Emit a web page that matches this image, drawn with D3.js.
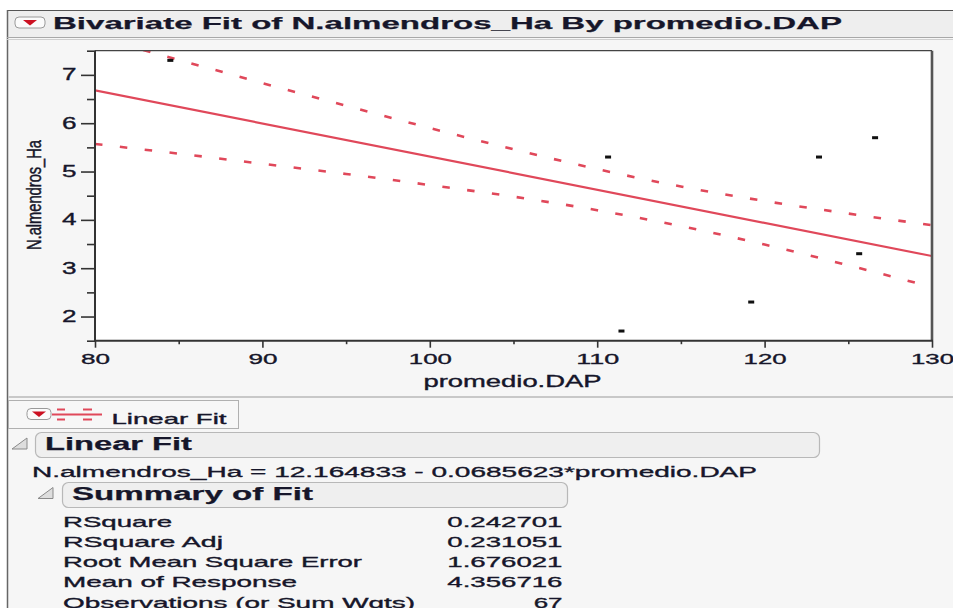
<!DOCTYPE html>
<html>
<head>
<meta charset="utf-8">
<script src="https://cdn.jsdelivr.net/npm/d3@7"></script>
<style>
  body { margin: 0; background: #ffffff; }
  svg { display: block; }
  text { font-family: "Liberation Sans", Arial, sans-serif; fill: #16162a; stroke: #16162a; stroke-width: 0.35px; }
  text.bold { stroke-width: 0.25px; }
</style>
</head>
<body>
<svg id="chart" width="953" height="608"></svg>
<script>
// ---- data ----
const xTicks = [80, 90, 100, 110, 120, 130];
const xMinorTicks = [85, 95, 105, 115, 125];
const yTicks = [2, 3, 4, 5, 6, 7];
const yMinorTicks = [1.5, 2.5, 3.5, 4.5, 5.5, 6.5, 7.5];

// observations visible inside the axis range
const pointX = [84.5, 110.65, 111.45, 119.2, 123.25, 125.65, 126.6];
const pointY = [7.3, 5.3, 1.7, 2.3, 5.3, 3.3, 5.7];

// linear fit coefficients
const fitIntercept = 12.164833;
const fitSlope = -0.0685623;

// confidence band of the fit
const bandX     = [80, 85, 90, 95, 100, 105, 110, 115, 120, 125, 130];
const bandUpper = [7.79, 7.31, 6.83, 6.36, 5.90, 5.46, 5.05, 4.69, 4.39, 4.13, 3.89];
const bandLower = [5.57, 5.37, 5.16, 4.95, 4.72, 4.48, 4.20, 3.87, 3.49, 3.06, 2.61];

const summaryLabels = ["RSquare", "RSquare Adj", "Root Mean Square Error", "Mean of Response", "Observations (or Sum Wgts)"];
const summaryValues = ["0.242701", "0.231051", "1.676021", "4.356716", "67"];

const titleText = "Bivariate Fit of N.almendros_Ha By promedio.DAP";
const xLabel = "promedio.DAP";
const yLabel = "N.almendros_Ha";
const equationText = "N.almendros_Ha = 12.164833 - 0.0685623*promedio.DAP";

// ---- layout ----
const RED = "#e0485a";
const plot = { left: 95, right: 932, top: 50.7, bottom: 340.7 };

const svg = d3.select("#chart");

// stretch text horizontally to a given width
function fit(sel, w) {
  return sel.attr("textLength", w).attr("lengthAdjust", "spacingAndGlyphs");
}

// page backgrounds
svg.append("rect").attr("width", 953).attr("height", 608).attr("fill", "#ffffff");
svg.append("rect").attr("x", 7).attr("y", 10).attr("width", 946).attr("height", 598).attr("fill", "#f6f6f6");
svg.append("rect").attr("x", 7).attr("y", 10).attr("width", 946).attr("height", 27).attr("fill", "#eeeeee");
svg.append("line").attr("x1", 7).attr("x2", 953).attr("y1", 10.5).attr("y2", 10.5).attr("stroke", "#555").attr("stroke-width", 1);
svg.append("line").attr("x1", 7.5).attr("x2", 7.5).attr("y1", 10).attr("y2", 608).attr("stroke", "#666").attr("stroke-width", 1.5);
svg.append("line").attr("x1", 7).attr("x2", 953).attr("y1", 37.5).attr("y2", 37.5).attr("stroke", "#a8a8a8").attr("stroke-width", 1);
svg.append("line").attr("x1", 7).attr("x2", 953).attr("y1", 39.5).attr("y2", 39.5).attr("stroke", "#cfcfcf").attr("stroke-width", 1);
svg.append("line").attr("x1", 8).attr("x2", 953).attr("y1", 397).attr("y2", 397).attr("stroke", "#c8c8c8").attr("stroke-width", 2);

// disclosure button
function dropButton(x, y, w, h) {
  svg.append("rect").attr("x", x).attr("y", y).attr("width", w).attr("height", h).attr("rx", 4)
    .attr("fill", "#fbfbfb").attr("stroke", "#9a9a9a").attr("stroke-width", 1);
  const cx = x + w / 2, cy = y + h / 2;
  svg.append("path").attr("d", `M${cx - 7},${cy - 2.5} L${cx + 7},${cy - 2.5} L${cx},${cy + 3} Z`).attr("fill", "#cc1122");
}
dropButton(15, 17, 30, 11);

fit(svg.append("text").attr("class", "bold").attr("x", 53).attr("y", 28.5).attr("font-size", 17)
  .attr("font-weight", "bold").attr("fill", "#0c0c1c").text(titleText), 789);

// ---- plot ----
const x = d3.scaleLinear().domain([80, 130]).range([plot.left, plot.right]);
const y = d3.scaleLinear().domain([1.5, 7.5]).range([plot.bottom, plot.top]);

svg.append("rect").attr("x", plot.left).attr("y", plot.top)
  .attr("width", plot.right - plot.left).attr("height", plot.bottom - plot.top).attr("fill", "#ffffff");

svg.append("clipPath").attr("id", "plotClip").append("rect")
  .attr("x", plot.left).attr("y", plot.top)
  .attr("width", plot.right - plot.left).attr("height", plot.bottom - plot.top);

const g = svg.append("g").attr("clip-path", "url(#plotClip)");

const bandLine = (vals) => d3.line().curve(d3.curveMonotoneX)
  .x((d, i) => x(bandX[i])).y((d, i) => y(vals[i]))(vals);

[bandUpper, bandLower].forEach(vals => {
  g.append("path").attr("d", bandLine(vals)).attr("fill", "none")
    .attr("stroke", RED).attr("stroke-width", 2.6).attr("stroke-dasharray", "7.5,17.5");
});

const fitXs = [80, 130];
g.append("path")
  .attr("d", d3.line().x(d => x(d)).y(d => y(fitIntercept + fitSlope * d))(fitXs))
  .attr("fill", "none").attr("stroke", RED).attr("stroke-width", 2.2);

g.selectAll("rect.pt").data(pointX).join("rect").attr("class", "pt")
  .attr("x", (d) => x(d) - 3).attr("y", (d, i) => y(pointY[i]) - 1.5)
  .attr("width", 6).attr("height", 3).attr("fill", "#111");

// frame
svg.append("line").attr("x1", plot.left).attr("x2", plot.right).attr("y1", plot.top).attr("y2", plot.top)
  .attr("stroke", "#444").attr("stroke-width", 1.2);
svg.append("line").attr("x1", plot.right).attr("x2", plot.right).attr("y1", plot.top).attr("y2", plot.bottom)
  .attr("stroke", "#555").attr("stroke-width", 2.6);

// axes
const yAxis = svg.append("g").attr("transform", `translate(${plot.left},0)`)
  .call(d3.axisLeft(y).tickValues(yTicks).tickSize(14).tickSizeOuter(0).tickPadding(4.5).tickFormat(d3.format("d")));
const yMinor = svg.append("g").attr("transform", `translate(${plot.left},0)`)
  .call(d3.axisLeft(y).tickValues(yMinorTicks).tickSize(8).tickSizeOuter(0).tickFormat(""));
const xAxis = svg.append("g").attr("transform", `translate(0,${plot.bottom})`)
  .call(d3.axisBottom(x).tickValues(xTicks).tickSize(7).tickSizeOuter(0).tickPadding(5.2).tickFormat(d3.format("d")));
const xMinor = svg.append("g").attr("transform", `translate(0,${plot.bottom})`)
  .call(d3.axisBottom(x).tickValues(xMinorTicks).tickSize(3.5).tickSizeOuter(0).tickFormat(""));

[yAxis, yMinor, xAxis, xMinor].forEach(a => {
  a.select(".domain").remove();
  a.selectAll(".tick line").attr("stroke", "#333").attr("stroke-width", 1.6);
});
yAxis.selectAll(".tick text").attr("font-size", 16).attr("font-family", null).attr("fill", "#1c1c30")
  .each(function () { fit(d3.select(this), 14.5); });
xAxis.selectAll(".tick text").attr("font-size", 15.5).attr("font-family", null).attr("fill", "#1c1c30")
  .each(function (d) { fit(d3.select(this), String(d).length === 3 ? 43 : 29); });

svg.append("line").attr("x1", plot.left).attr("x2", plot.left).attr("y1", plot.top).attr("y2", plot.bottom)
  .attr("stroke", "#333").attr("stroke-width", 2);
svg.append("line").attr("x1", plot.left - 1).attr("x2", plot.right + 1).attr("y1", plot.bottom).attr("y2", plot.bottom)
  .attr("stroke", "#333").attr("stroke-width", 2);

fit(svg.append("text").attr("x", 512.5).attr("y", 386.5).attr("text-anchor", "middle")
  .attr("font-size", 16).text(xLabel), 178);
fit(svg.append("text").attr("transform", "translate(41,195) rotate(-90) scale(1,1.3)")
  .attr("text-anchor", "middle").attr("font-size", 15).text(yLabel), 110);

// ---- legend strip ----
svg.append("rect").attr("x", 8.5).attr("y", 400.5).attr("width", 230).attr("height", 28)
  .attr("fill", "#f7f7f7").attr("stroke", "#b0b0b0");
dropButton(27, 408.5, 24, 11);
svg.append("line").attr("x1", 52).attr("x2", 102).attr("y1", 414.5).attr("y2", 414.5).attr("stroke", RED).attr("stroke-width", 2);
[[57, 65], [83, 92]].forEach(([a, b]) => {
  [409.5, 419.5].forEach(yy => {
    svg.append("line").attr("x1", a).attr("x2", b).attr("y1", yy).attr("y2", yy).attr("stroke", RED).attr("stroke-width", 2);
  });
});
fit(svg.append("text").attr("x", 111.5).attr("y", 424.3).attr("font-size", 15).text("Linear Fit"), 115);

// ---- report outline ----
function outlineHeader(tx, ty, bx, by, bw, label, labelW) {
  svg.append("path").attr("d", `M${tx},${ty} L${tx + 15},${ty} L${tx + 15},${ty - 11} Z`)
    .attr("fill", "#dedede").attr("stroke", "#8a8a8a").attr("stroke-width", 1);
  svg.append("rect").attr("x", bx).attr("y", by).attr("width", bw).attr("height", 25).attr("rx", 6)
    .attr("fill", "#efefef").attr("stroke", "#b8b8b8").attr("stroke-width", 1.2);
  fit(svg.append("text").attr("class", "bold").attr("x", bx + 9.5).attr("y", by + 17.5).attr("font-size", 18)
    .attr("font-weight", "bold").attr("fill", "#101020").text(label), labelW);
}
outlineHeader(12, 449, 35.5, 432.5, 784, "Linear Fit", 147);
fit(svg.append("text").attr("x", 32).attr("y", 477).attr("font-size", 15.5).text(equationText), 725);
outlineHeader(38, 498.5, 62.5, 482.5, 505, "Summary of Fit", 241);

const labelWidths = [109, 160, 299, 234, 352];
summaryLabels.forEach((lab, i) => {
  const yy = 526.7 + i * 20.2;
  fit(svg.append("text").attr("x", 63).attr("y", yy).attr("font-size", 15).text(lab), labelWidths[i]);
  fit(svg.append("text").attr("x", 562.5).attr("y", yy).attr("text-anchor", "end").attr("font-size", 15)
    .text(summaryValues[i]), summaryValues[i].length * 14.4);
});
</script>
</body>
</html>
